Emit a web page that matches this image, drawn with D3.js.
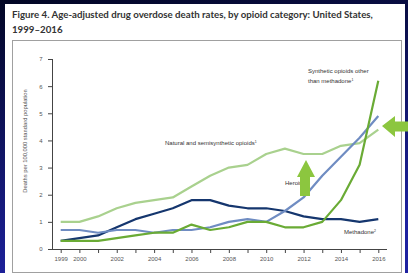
<!DOCTYPE html>
<html>
<head>
<meta charset="utf-8">
<script src="https://cdn.jsdelivr.net/npm/d3@7"></script>
<style>
  body { margin: 0; }
  svg { display: block; }
</style>
</head>
<body>
<div id="chart"></div>
<script>
// data
const years = d3.range(1999, 2017);
const natural = [1.0, 1.0, 1.2, 1.5, 1.7, 1.8, 1.9, 2.3, 2.7, 3.0, 3.1, 3.5, 3.7, 3.5, 3.5, 3.8, 3.9, 4.4];
const heroin = [0.7, 0.7, 0.6, 0.7, 0.7, 0.6, 0.7, 0.7, 0.8, 1.0, 1.1, 1.0, 1.4, 1.9, 2.7, 3.4, 4.1, 4.9];
const methadone = [0.3, 0.4, 0.5, 0.8, 1.1, 1.3, 1.5, 1.8, 1.8, 1.6, 1.5, 1.5, 1.4, 1.2, 1.1, 1.1, 1.0, 1.1];
const synthetic = [0.3, 0.3, 0.3, 0.4, 0.5, 0.6, 0.6, 0.9, 0.7, 0.8, 1.0, 1.0, 0.8, 0.8, 1.0, 1.8, 3.1, 6.2];
const xTickLabels = [1999, 2000, 2002, 2004, 2006, 2008, 2010, 2012, 2014, 2016];
const yTicks = [0, 1, 2, 3, 4, 5, 6, 7];

const width = 408, height = 273;

const svg = d3.select("#chart")
  .append("svg")
  .attr("width", width)
  .attr("height", height);

// slide background
const defs = svg.append("defs");
const grad = defs.append("linearGradient")
  .attr("id", "bg")
  .attr("x1", "0").attr("y1", "0")
  .attr("x2", "0.25").attr("y2", "1");
grad.append("stop").attr("offset", "0").attr("stop-color", "#020624");
grad.append("stop").attr("offset", "1").attr("stop-color", "#1e22a0");

svg.append("rect")
  .attr("width", width).attr("height", height)
  .attr("fill", "url(#bg)");

// white panel
svg.append("rect")
  .attr("x", 5).attr("y", 4)
  .attr("width", 400).attr("height", 273)
  .attr("fill", "#fff");

// title
const title = svg.append("text")
  .attr("x", 12).attr("y", 18)
  .attr("font-family", "Lato, sans-serif")
  .attr("font-weight", "bold")
  .attr("font-size", 9.7)
  .attr("fill", "#333");
title.append("tspan").attr("x", 12).attr("y", 18)
  .text("Figure 4. Age-adjusted drug overdose death rates, by opioid category: United States,");
title.append("tspan").attr("x", 12).attr("y", 33)
  .text("1999\u20132016");

// inner frame
svg.append("rect")
  .attr("x", 12.5).attr("y", 40.5)
  .attr("width", 389).attr("height", 232)
  .attr("fill", "none")
  .attr("stroke", "#a0a0a0")
  .attr("stroke-width", 1);

// scales
const x = d3.scaleLinear().domain([1999, 2016]).range([60.7, 378.3]);
const y = d3.scaleLinear().domain([0, 7]).range([249, 59]);

// axes
const xAxis = svg.append("g")
  .attr("transform", "translate(0,249)")
  .call(d3.axisBottom(x)
    .tickValues(years)
    .tickSize(4)
    .tickFormat(d => xTickLabels.includes(d) ? d : ""));
xAxis.select(".domain").attr("d", "M52,0.5H387");

const yAxis = svg.append("g")
  .attr("transform", "translate(52,0)")
  .call(d3.axisLeft(y)
    .tickValues(yTicks)
    .tickSize(4)
    .tickFormat(d3.format("d")));
yAxis.select(".domain").attr("d", "M0.5,59V249");

svg.selectAll(".tick line").attr("stroke", "#444");
svg.selectAll(".domain").attr("stroke", "#444");
svg.selectAll(".tick text")
  .attr("font-family", "Liberation Sans, Arial, sans-serif")
  .attr("font-size", 6)
  .attr("fill", "#555");
xAxis.selectAll(".tick text").attr("dy", "0.9em");
yAxis.selectAll(".tick text").attr("dx", "-0.4em");

svg.append("text")
  .attr("transform", "translate(27,141) rotate(-90)")
  .attr("text-anchor", "middle")
  .attr("font-family", "Liberation Sans, Arial, sans-serif")
  .attr("font-size", 5.8)
  .attr("fill", "#555")
  .text("Deaths per 100,000 standard population");

// lines
const line = d3.line()
  .x((d, i) => x(years[i]))
  .y(d => y(d));

const series = [
  { values: natural, color: "#a9d18e" },
  { values: methadone, color: "#15366e" },
  { values: heroin, color: "#6f8cc2" },
  { values: synthetic, color: "#6aab35" }
];

svg.selectAll("path.series")
  .data(series)
  .enter()
  .append("path")
  .attr("class", "series")
  .attr("d", d => line(d.values))
  .attr("fill", "none")
  .attr("stroke", d => d.color)
  .attr("stroke-width", 2.2)
  .attr("stroke-linejoin", "round");

// series labels
const labelFont = "Liberation Sans, Arial, sans-serif";
function label(tx, ty, txt, sup) {
  const t = svg.append("text")
    .attr("x", tx).attr("y", ty)
    .attr("font-family", labelFont)
    .attr("font-size", 6)
    .attr("fill", "#333")
    .text(txt);
  if (sup) {
    t.append("tspan").attr("font-size", 3.5).attr("dy", -2.5).text(sup);
  }
}
label(308, 73, "Synthetic opioids other");
label(308, 83, "than methadone", "1");
label(165, 145, "Natural and semisynthetic opioids", "1");
label(285, 185, "Heroin");
label(344, 234, "Methadone", "2");

// highlight arrows
const arrowColor = "#8cc63f";
svg.append("path")
  .attr("d", "M300,196V177H297L306,160L315,177H310V196Z")
  .attr("fill", arrowColor);
svg.append("path")
  .attr("d", "M382,126L395,116V121.5H410V131.5H395V137Z")
  .attr("fill", arrowColor);
</script>
</body>
</html>
